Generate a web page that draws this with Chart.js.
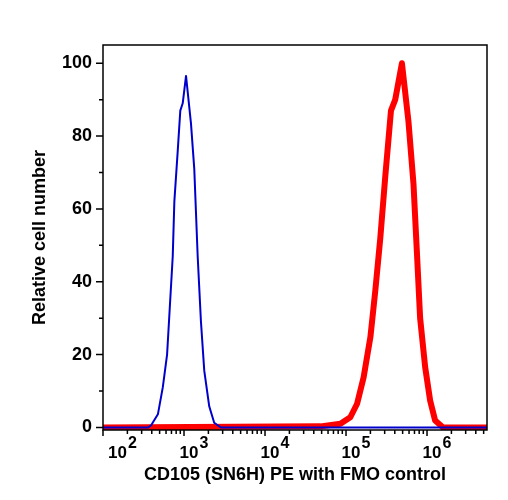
<!DOCTYPE html>
<html>
<head>
<meta charset="utf-8">
<script src="https://cdn.jsdelivr.net/npm/chart.js@4"></script>
<style>
  html, body { margin: 0; padding: 0; background: #fff; }
</style>
</head>
<body>
<canvas id="histo" width="508" height="500"></canvas>
<script>
// Fluorescence intensity (PE) and relative cell number
const fmoIntensity = [100, 361, 393, 476, 547, 618, 660, 726, 760, 837, 900, 964, 1059, 1219, 1339, 1475, 1619, 1778, 2048, 2359, 2851, 5500000];
const fmoCount     = [0,   0,   0.6, 3.6, 11,  20,  31,  47,  62,  76,  87,  89,  96.5, 83.5, 71,  47,   29,   15.6, 5.8,  1.3,  0,    0];

const cd105Intensity = [100, 48400, 85300, 113000, 137000, 165000, 200000, 230000, 265000, 305000, 359000, 405000, 490000, 590000, 680000, 748000, 822000, 948000, 1092000, 1259000, 1578000, 5500000];
const cd105Count     = [0,   0.3,   1,     2.8,    6.5,    13.8,   24.8,   37.6,   52,     68.8,   87,     90,     100,    84,     67,     48.6,   30,     16.6,   7.4,     1.9,     0,       0];

// axis ticks
const xMajorTicks = [100, 1000, 10000, 100000, 1000000];
const xTickExponents = ['2', '3', '4', '5', '6'];
const xMinorMultipliers = [2, 3, 4, 5, 6, 7, 8, 9];
const yMajorTicks = [0, 20, 40, 60, 80, 100];
const yMinorTicks = [10, 30, 50, 70, 90];

const FONT = '"Liberation Sans", Arial, Helvetica, sans-serif';
Chart.defaults.font.family = FONT;
Chart.defaults.color = '#000';

function toPoints(xs, ys) {
    return xs.map((x, i) => ({ x: x, y: ys[i] }));
}

// frame, tick marks and the 10^n labels
const flowAxes = {
    id: 'flowAxes',
    afterDraw(chart) {
        const ctx = chart.ctx;
        const area = chart.chartArea;
        const xs = chart.scales.x;
        const ys = chart.scales.y;
        ctx.save();
        ctx.strokeStyle = '#000';
        ctx.lineWidth = 1.5;
        ctx.strokeRect(area.left, area.top, area.right - area.left, area.bottom - area.top);

        ctx.beginPath();
        // left axis runs a bit below the box
        ctx.moveTo(area.left, area.bottom);
        ctx.lineTo(area.left, area.bottom + 6);
        yMajorTicks.forEach(v => {
            const y = ys.getPixelForValue(v);
            ctx.moveTo(area.left - 7, y);
            ctx.lineTo(area.left, y);
        });
        yMinorTicks.forEach(v => {
            const y = ys.getPixelForValue(v);
            ctx.moveTo(area.left - 4, y);
            ctx.lineTo(area.left, y);
        });
        xMajorTicks.forEach(v => {
            const x = xs.getPixelForValue(v);
            ctx.moveTo(x, area.bottom);
            ctx.lineTo(x, area.bottom + 6);
            xMinorMultipliers.forEach(m => {
                const mx = xs.getPixelForValue(v * m);
                if (mx > area.right) return;
                ctx.moveTo(mx, area.bottom);
                ctx.lineTo(mx, area.bottom + 4);
            });
        });
        ctx.stroke();

        // 10 with superscript exponent
        ctx.fillStyle = '#000';
        ctx.textBaseline = 'alphabetic';
        ctx.textAlign = 'left';
        xMajorTicks.forEach((v, i) => {
            const px = xs.getPixelForValue(v);
            let left = Math.max(px - 4.5, area.left + 5);
            ctx.font = 'bold 17px ' + FONT;
            const baseW = ctx.measureText('10').width;
            ctx.fillText('10', left, 458);
            ctx.font = 'bold 16px ' + FONT;
            ctx.fillText(xTickExponents[i], left + baseW + 1, 448);
        });
        ctx.restore();
    }
};

new Chart(document.getElementById('histo'), {
    type: 'line',
    data: {
        datasets: [{
            label: 'FMO control',
            data: toPoints(fmoIntensity, fmoCount),
            borderColor: '#0000cc',
            borderWidth: 2,
            borderJoinStyle: 'round',
            pointRadius: 0,
            tension: 0,
            fill: false
        }, {
            label: 'CD105 (SN6H) PE',
            data: toPoints(cd105Intensity, cd105Count),
            borderColor: '#ff0000',
            borderWidth: 6,
            borderJoinStyle: 'round',
            pointRadius: 0,
            tension: 0,
            fill: false
        }]
    },
    options: {
        responsive: false,
        animation: false,
        layout: {
            padding: { left: 0, right: 21, top: 45, bottom: 0 }
        },
        plugins: {
            legend: { display: false },
            tooltip: { enabled: false }
        },
        scales: {
            x: {
                type: 'logarithmic',
                position: 'bottom',
                min: 100,
                max: 5500000,
                grid: { display: false },
                border: { display: false },
                ticks: { display: false },
                afterFit: function(scale) { scale.height = 70; },
                title: {
                    display: true,
                    text: 'CD105 (SN6H) PE with FMO control',
                    color: '#000',
                    font: { size: 18, weight: 'bold' },
                    padding: 14
                }
            },
            y: {
                min: -0.7,
                max: 105,
                grid: { display: false },
                border: { display: false },
                afterBuildTicks: function(scale) {
                    scale.ticks = yMajorTicks.map(v => ({ value: v }));
                },
                afterFit: function(scale) { scale.width = 103; },
                ticks: {
                    color: '#000',
                    padding: 3,
                    autoSkip: false,
                    font: { size: 18, weight: 'bold' }
                },
                title: {
                    display: true,
                    text: 'Relative cell number',
                    color: '#000',
                    font: { size: 18, weight: 'bold' },
                    padding: 29
                }
            }
        }
    },
    plugins: [flowAxes]
});
</script>
</body>
</html>
